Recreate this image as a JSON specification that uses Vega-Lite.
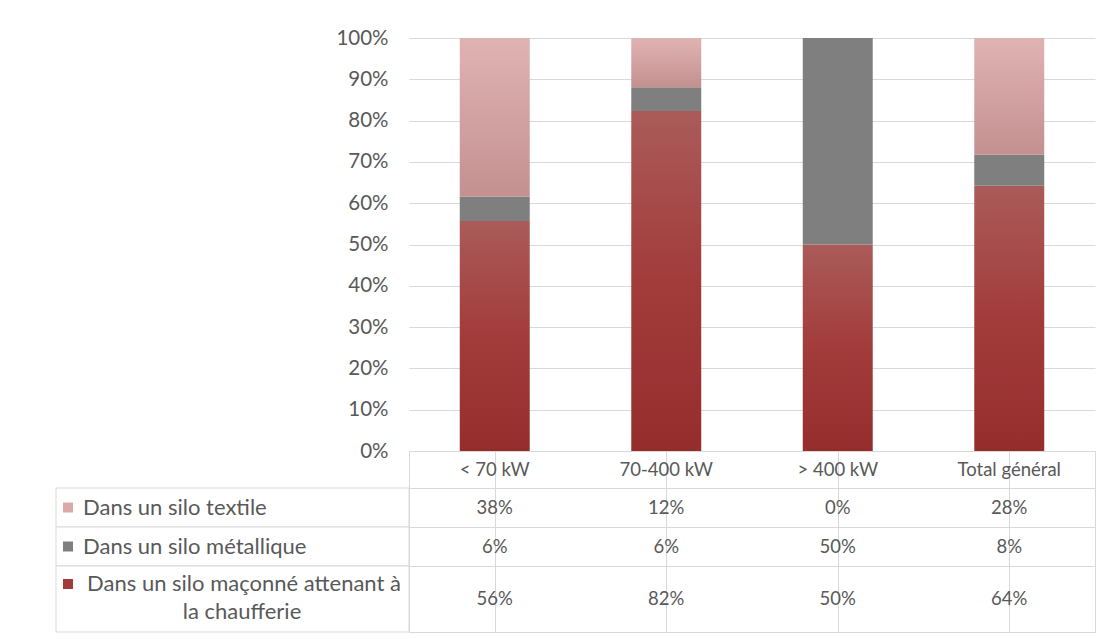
{
  "$schema": "https://vega.github.io/schema/vega-lite/v6.json",
  "padding": {"left": 55, "top": 28, "right": 0, "bottom": 0},
  "background": "white",
  "bounds": "flush",
  "spacing": 0,
  "columns": 2,
  "config": {
    "font": "Lato",
    "view": {"stroke": "#d9d9d9", "strokeWidth": 1},
    "text": {"font": "Lato", "fontSize": 18.5, "color": "#595959"},
    "axis": {"labelFont": "Lato"}
  },
  "datasets": {
    "d": [
      {"cat": "< 70 kW", "series": "Dans un silo textile", "value": 0.384},
      {"cat": "< 70 kW", "series": "Dans un silo métallique", "value": 0.059},
      {"cat": "< 70 kW", "series": "Dans un silo maçonné attenant à la chaufferie", "value": 0.557},
      {"cat": "70-400 kW", "series": "Dans un silo textile", "value": 0.119},
      {"cat": "70-400 kW", "series": "Dans un silo métallique", "value": 0.058},
      {"cat": "70-400 kW", "series": "Dans un silo maçonné attenant à la chaufferie", "value": 0.823},
      {"cat": "> 400 kW", "series": "Dans un silo textile", "value": 0.0},
      {"cat": "> 400 kW", "series": "Dans un silo métallique", "value": 0.5},
      {"cat": "> 400 kW", "series": "Dans un silo maçonné attenant à la chaufferie", "value": 0.5},
      {"cat": "Total général", "series": "Dans un silo textile", "value": 0.282},
      {"cat": "Total général", "series": "Dans un silo métallique", "value": 0.076},
      {"cat": "Total général", "series": "Dans un silo maçonné attenant à la chaufferie", "value": 0.642}
    ],
    "cats": [
      {"cat": "< 70 kW"}, {"cat": "70-400 kW"}, {"cat": "> 400 kW"}, {"cat": "Total général"}
    ],
    "labels": [
      {"series": "Dans un silo textile", "line1": "Dans un silo textile", "line2": ""},
      {"series": "Dans un silo métallique", "line1": "Dans un silo métallique", "line2": ""},
      {"series": "Dans un silo maçonné attenant à la chaufferie", "line1": "Dans un silo maçonné attenant à", "line2": "la chaufferie"}
    ]
  },
  "concat": [
    {
      "width": 353, "height": 413,
      "view": {"stroke": null},
      "data": {"values": [{}]},
      "mark": {"type": "point", "opacity": 0},
      "encoding": {}
    },
    {
      "width": 686, "height": 413,
      "view": {"stroke": null},
      "data": {"name": "d"},
      "transform": [
        {"stack": "value", "groupby": ["cat"], "sort": [{"field": "series", "order": "ascending"}], "as": ["v0", "v1"]}
      ],
      "encoding": {
        "x": {"field": "cat", "type": "nominal", "sort": ["< 70 kW", "70-400 kW", "> 400 kW", "Total général"],
              "scale": {"paddingInner": 0.592, "paddingOuter": 0.296}, "axis": null},
        "y": {"field": "v0", "type": "quantitative", "scale": {"domain": [0, 1], "nice": false},
              "axis": {"title": null, "format": ".0%", "values": [0, 0.1, 0.2, 0.3, 0.4, 0.5, 0.6, 0.7, 0.8, 0.9, 1],
                       "domain": false, "ticks": false, "labelPadding": 21, "labelFontSize": 20.5, "labelColor": "#595959",
                       "gridColor": "#d9d9d9", "gridWidth": 1}},
        "y2": {"field": "v1"}
      },
      "layer": [
        {
          "transform": [{"filter": "datum.series === 'Dans un silo maçonné attenant à la chaufferie'"}],
          "mark": {"type": "bar", "color": {"gradient": "linear", "x1": 0, "y1": 0, "x2": 0, "y2": 1,
                   "stops": [{"offset": 0, "color": "#aa5b59"}, {"offset": 0.5, "color": "#a23c3b"}, {"offset": 1, "color": "#952d2d"}]}}
        },
        {
          "transform": [{"filter": "datum.series === 'Dans un silo métallique'"}],
          "mark": {"type": "bar", "color": "#7f7f7f"}
        },
        {
          "transform": [{"filter": "datum.series === 'Dans un silo textile' && datum.value > 0"}],
          "mark": {"type": "bar", "color": {"gradient": "linear", "x1": 0, "y1": 0, "x2": 0, "y2": 1,
                   "stops": [{"offset": 0, "color": "#e0b3b3"}, {"offset": 1, "color": "#c49090"}]}}
        }
      ]
    },
    {
      "width": 353, "height": 37,
      "view": {"stroke": null},
      "data": {"values": [{}]},
      "mark": {"type": "point", "opacity": 0},
      "encoding": {}
    },
    {
      "width": 686, "height": 37,
      "data": {"name": "cats"},
      "mark": {"type": "text", "baseline": "middle", "align": "center"},
      "encoding": {
        "x": {"field": "cat", "type": "nominal", "sort": ["< 70 kW", "70-400 kW", "> 400 kW", "Total général"],
              "scale": {"paddingInner": 0, "paddingOuter": 0},
              "axis": {"title": null, "labels": false, "ticks": false, "domain": false, "grid": true, "bandPosition": 0, "gridColor": "#d9d9d9"}},
        "text": {"field": "cat"}
      }
    },
    {
      "width": 353, "height": 39,
      "data": {"name": "labels"},
      "transform": [{"filter": "datum.series === 'Dans un silo textile'"}],
      "layer": [
        {"mark": {"type": "rect", "fill": "white", "stroke": "#d9d9d9", "strokeWidth": 1}, "encoding": {}},
        {"mark": {"type": "square", "size": 100, "x": 12, "color": "#dca9a9", "opacity": 1}, "encoding": {}},
        {"mark": {"type": "text", "align": "left", "baseline": "middle", "x": 27, "fontSize": 22}, "encoding": {"text": {"field": "line1"}}}
      ]
    },
    {
      "width": 686, "height": 39,
      "data": {"name": "d"},
      "transform": [{"filter": "datum.series === 'Dans un silo textile'"}],
      "mark": {"type": "text", "baseline": "middle", "align": "center"},
      "encoding": {
        "x": {"field": "cat", "type": "nominal", "sort": ["< 70 kW", "70-400 kW", "> 400 kW", "Total général"],
              "scale": {"paddingInner": 0, "paddingOuter": 0},
              "axis": {"title": null, "labels": false, "ticks": false, "domain": false, "grid": true, "bandPosition": 0, "gridColor": "#d9d9d9"}},
        "text": {"field": "value", "format": ".0%"}
      }
    },
    {
      "width": 353, "height": 39,
      "data": {"name": "labels"},
      "transform": [{"filter": "datum.series === 'Dans un silo métallique'"}],
      "layer": [
        {"mark": {"type": "rect", "fill": "white", "stroke": "#d9d9d9", "strokeWidth": 1}, "encoding": {}},
        {"mark": {"type": "square", "size": 100, "x": 12, "color": "#7f7f7f", "opacity": 1}, "encoding": {}},
        {"mark": {"type": "text", "align": "left", "baseline": "middle", "x": 27, "fontSize": 22}, "encoding": {"text": {"field": "line1"}}}
      ]
    },
    {
      "width": 686, "height": 39,
      "data": {"name": "d"},
      "transform": [{"filter": "datum.series === 'Dans un silo métallique'"}],
      "mark": {"type": "text", "baseline": "middle", "align": "center"},
      "encoding": {
        "x": {"field": "cat", "type": "nominal", "sort": ["< 70 kW", "70-400 kW", "> 400 kW", "Total général"],
              "scale": {"paddingInner": 0, "paddingOuter": 0},
              "axis": {"title": null, "labels": false, "ticks": false, "domain": false, "grid": true, "bandPosition": 0, "gridColor": "#d9d9d9"}},
        "text": {"field": "value", "format": ".0%"}
      }
    },
    {
      "width": 353, "height": 66,
      "data": {"name": "labels"},
      "transform": [{"filter": "datum.series === 'Dans un silo maçonné attenant à la chaufferie'"}],
      "layer": [
        {"mark": {"type": "rect", "fill": "white", "stroke": "#d9d9d9", "strokeWidth": 1}, "encoding": {}},
        {"mark": {"type": "square", "size": 100, "x": 12, "y": 18, "color": "#a33a3a", "opacity": 1}, "encoding": {}},
        {"mark": {"type": "text", "align": "center", "baseline": "middle", "x": 188, "y": 18, "fontSize": 22}, "encoding": {"text": {"field": "line1"}}},
        {"mark": {"type": "text", "align": "center", "baseline": "middle", "x": 186, "y": 46, "fontSize": 22}, "encoding": {"text": {"field": "line2"}}}
      ]
    },
    {
      "width": 686, "height": 66,
      "data": {"name": "d"},
      "transform": [{"filter": "datum.series === 'Dans un silo maçonné attenant à la chaufferie'"}],
      "mark": {"type": "text", "baseline": "middle", "align": "center"},
      "encoding": {
        "x": {"field": "cat", "type": "nominal", "sort": ["< 70 kW", "70-400 kW", "> 400 kW", "Total général"],
              "scale": {"paddingInner": 0, "paddingOuter": 0},
              "axis": {"title": null, "labels": false, "ticks": false, "domain": false, "grid": true, "bandPosition": 0, "gridColor": "#d9d9d9"}},
        "text": {"field": "value", "format": ".0%"}
      }
    }
  ]
}
